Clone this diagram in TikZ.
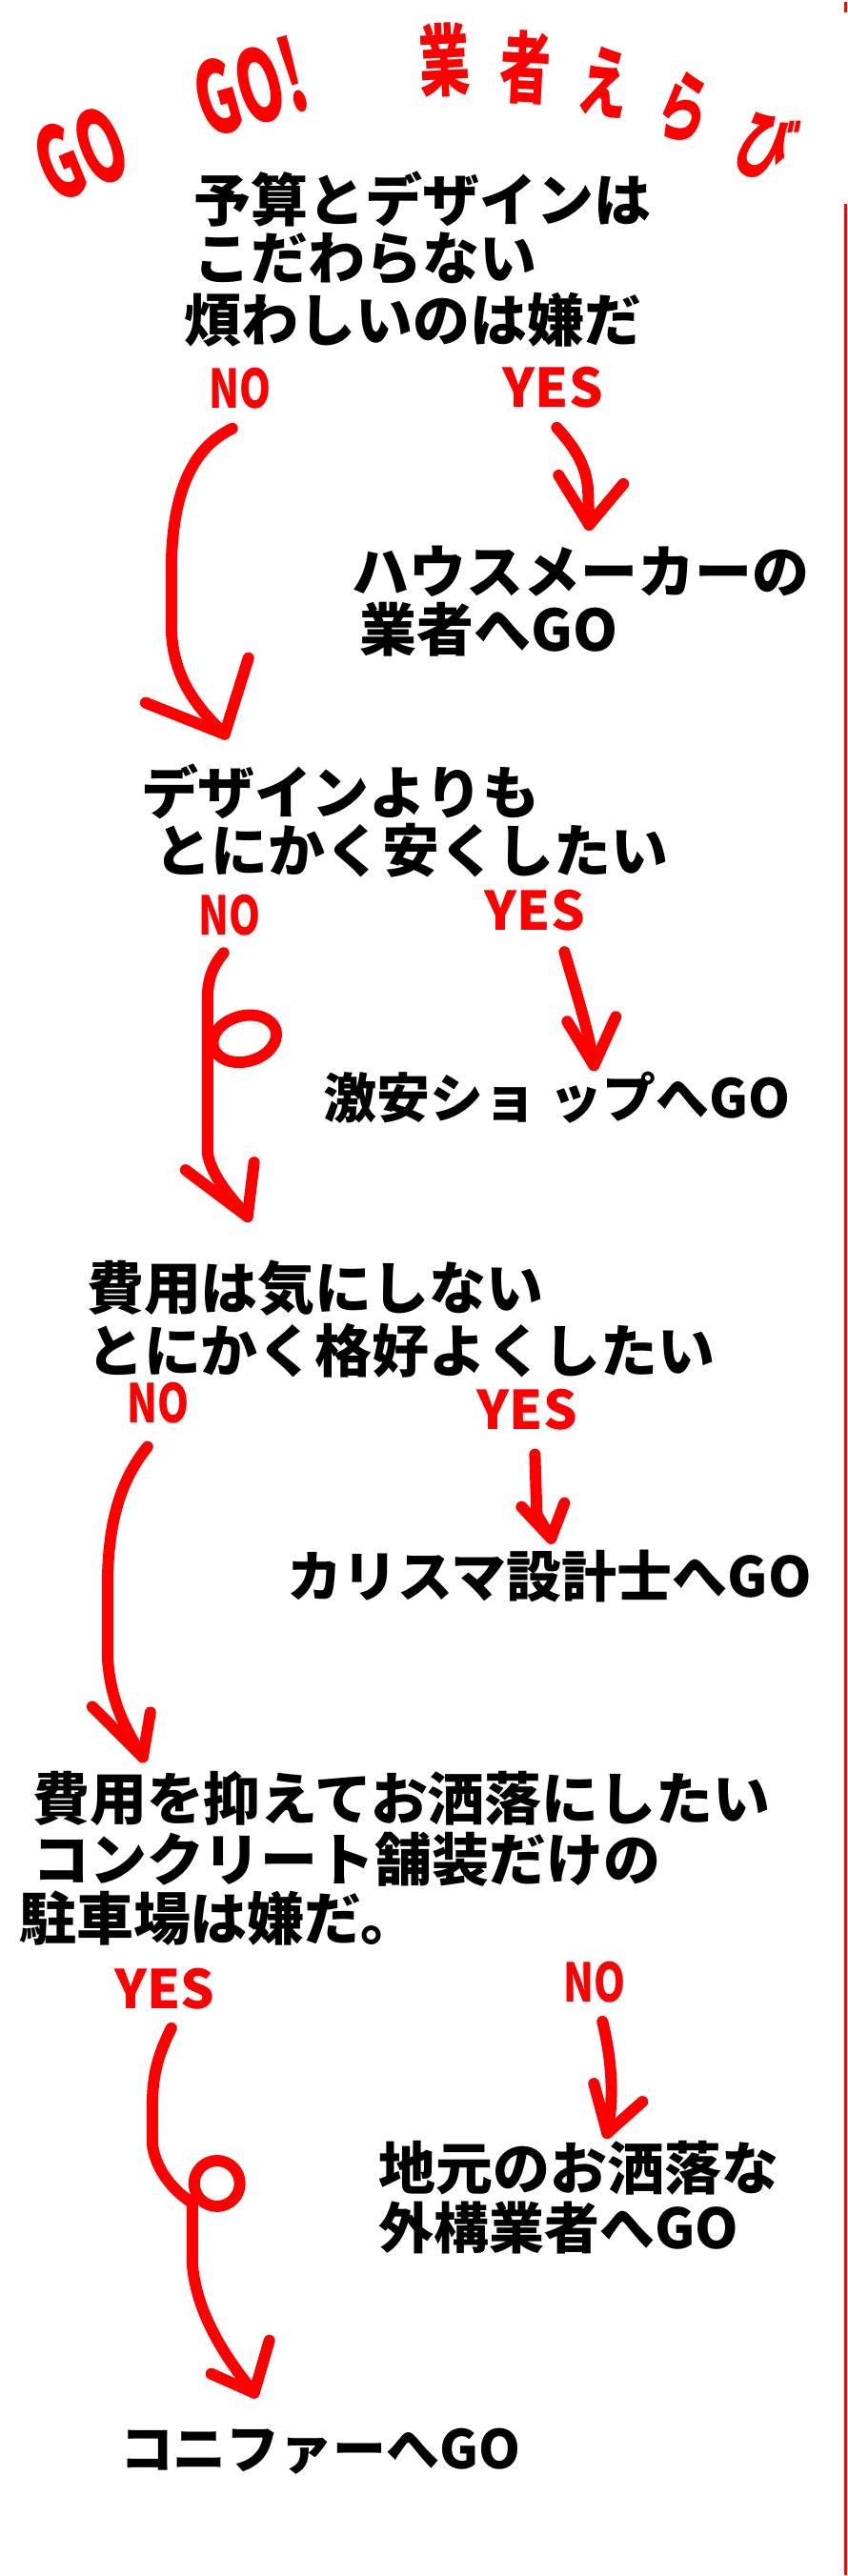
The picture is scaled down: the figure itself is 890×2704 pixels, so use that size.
\documentclass[tikz,border=0pt]{standalone}
\usepackage{fontspec}
\setmainfont{Noto Sans CJK JP}
\newcommand\fsz[1]{\bfseries\fontsize{#1}{#1}\selectfont}
\tikzset{
	txt/.style={anchor=west, inner sep=0pt, font=\fsz{60}},
	ans/.style={text=red, inner sep=0pt, font=\fsz{56}},
	ttl/.style={text=red, inner sep=0pt, xscale=.65, font=\fsz{82}},
	gottl/.style={text=red, inner sep=0pt, xscale=.58, font=\fsz{105}},
	arr/.style={draw=red, line width=12pt, line cap=round, line join=round},
}

\begin{document}
\begin{tikzpicture}[x=1pt, y=-1pt]
	\fill[white] (0,0) rectangle (890,2704);
	\draw[red, line width=3pt] (888,0) -- (888,12);
	\draw[red, line width=3pt] (888,213) -- (888,2704);

	% title
	\node (go1) at (85,160) [rotate=22, gottl] {GO};
	\node (go2) at (263,90) [rotate=16, gottl] {GO!};
	\node (ti1) at (467,62) [rotate=3, ttl] {業};
	\node (ti2) at (552,69) [rotate=-3, ttl] {者};
	\node (ti3) at (636,85) [rotate=-10, ttl] {え};
	\node (ti4) at (719,112) [rotate=-18, ttl] {ら};
	\node (ti5) at (805,151) [rotate=-25, ttl] {び};

	% questions
	\node (q1a) at (204,208) [txt] {予算とデザインは};
	\node (q1b) at (q1a.west) [txt, yshift=-62pt] {こだわらない};
	\node (q1c) at (194,335) [txt] {煩わしいのは嫌だ};
	\node (q2a) at (148,830) [txt] {デザインよりも};
	\node (q2b) at (162,892) [txt] {とにかく安くしたい};
	\node (q3a) at (91,1352) [txt] {費用は気にしない};
	\node (q3b) at (q3a.west) [txt, yshift=-66pt] {とにかく格好よくしたい};
	\node (q4a) at (34,1888) [txt] {費用を抑えてお洒落にしたい};
	\node (q4b) at (q4a.west) [txt, yshift=-64pt] {コンクリート舗装だけの};
	\node (q4c) at (20,2014) [txt] {駐車場は嫌だ。};

	% answers
	\node (r1a) at (370,599) [txt] {ハウスメーカーの};
	\node (r1b) at (378,660) [txt] {業者へGO};
	\node (r2) at (340,1152) [txt, font=\fsz{56}] {激安ショ ップへGO};
	\node (r3) at (302,1655) [txt, font=\fsz{58}] {カリスマ設計士へGO};
	\node (r4a) at (398,2277) [txt] {地元のお洒落な};
	\node (r4b) at (r4a.west) [txt, yshift=-63pt, font=\fsz{58}] {外構業者へGO};
	\node (r5) at (126,2575) [txt, font=\fsz{56}] {コニファーへGO};

	% labels
	\node (no1) at (252,407) [ans, xscale=.75] {NO};
	\node (yes1) at (581,406) [ans] {YES};
	\node (no2) at (241,960) [ans, xscale=.75] {NO};
	\node (yes2) at (562,955) [ans] {YES};
	\node (no3) at (166,1473) [ans, xscale=.75] {NO};
	\node (yes3) at (554,1480) [ans] {YES};
	\node (yes4) at (173,2088) [ans] {YES};
	\node (no4) at (625,2081) [ans, xscale=.75] {NO};

	% arrow tips
	\coordinate (h1) at (236,770);
	\coordinate (h2) at (619,550);
	\coordinate (h3) at (260,1277);
	\coordinate (h4) at (624,1118);
	\coordinate (h5) at (150,1845);
	\coordinate (h6) at (579,1615);
	\coordinate (h7) at (638,2240);
	\coordinate (h8) at (267,2513);
	\coordinate (lp3) at (257,1090);
	\coordinate (lp8) at (228,2293);

	\draw[arr] ([xshift=-8pt, yshift=-20pt]no1.south) .. controls (200,470) and (180,520) .. (180,600) -- (180,660) .. controls (182,710) and (205,740) .. (h1);
	\draw[arr] (h1) ++(-83,-33) -- (h1) -- ++(25,-80);
	\draw[arr] ([xshift=4pt, yshift=-20pt]yes1.south) .. controls (605,470) and (618,490) .. (618,520) -- (h2);
	\draw[arr] (h2) ++(-32,-52) -- (h2) -- ++(36,-43);

	\draw[arr] ([xshift=-6pt, yshift=-18pt]no2.south) .. controls (222,1015) and (218,1030) .. (218,1050) -- (218,1210) .. controls (222,1235) and (245,1260) .. (h3);
	\draw[arr, rotate around={15:(lp3)}] (lp3) ellipse (34 and 24);
	\draw[arr] (h3) ++(-65,-49) -- (h3) -- ++(7,-57);
	\draw[arr] ([xshift=31pt, yshift=-22pt]yes2.south) .. controls (605,1040) and (618,1080) .. (h4);
	\draw[arr] (h4) ++(-28,-46) -- (h4) -- ++(23,-51);

	\draw[arr] ([xshift=-11pt, yshift=-24pt]no3.south) .. controls (130,1550) and (114,1590) .. (113,1660) -- (113,1740) .. controls (116,1790) and (135,1820) .. (h5);
	\draw[arr] (h5) ++(-53,-53) -- (h5) -- ++(8,-47);
	\draw[arr] ([xshift=8pt, yshift=-25pt]yes3.south) -- (564,1590) -- (h6);
	\draw[arr] (h6) ++(-31,-33) -- (h6) -- ++(14,-37);

	\draw[arr] ([xshift=7pt, yshift=-20pt]yes4.south) .. controls (165,2160) and (160,2180) .. (160,2215) -- (160,2250) .. controls (162,2275) and (180,2300) .. (202,2313) -- (202,2375) .. controls (205,2430) and (240,2480) .. (h8);
	\draw[arr] (lp8) circle (24);
	\draw[arr] (h8) ++(-45,-20) -- (h8) -- ++(16,-55);
	\draw[arr] ([xshift=8pt, yshift=-20pt]no4.south) .. controls (642,2160) and (646,2200) .. (h7);
	\draw[arr] (h7) ++(-14,-52) -- (h7) -- ++(37,-33);
\end{tikzpicture}
\end{document}
